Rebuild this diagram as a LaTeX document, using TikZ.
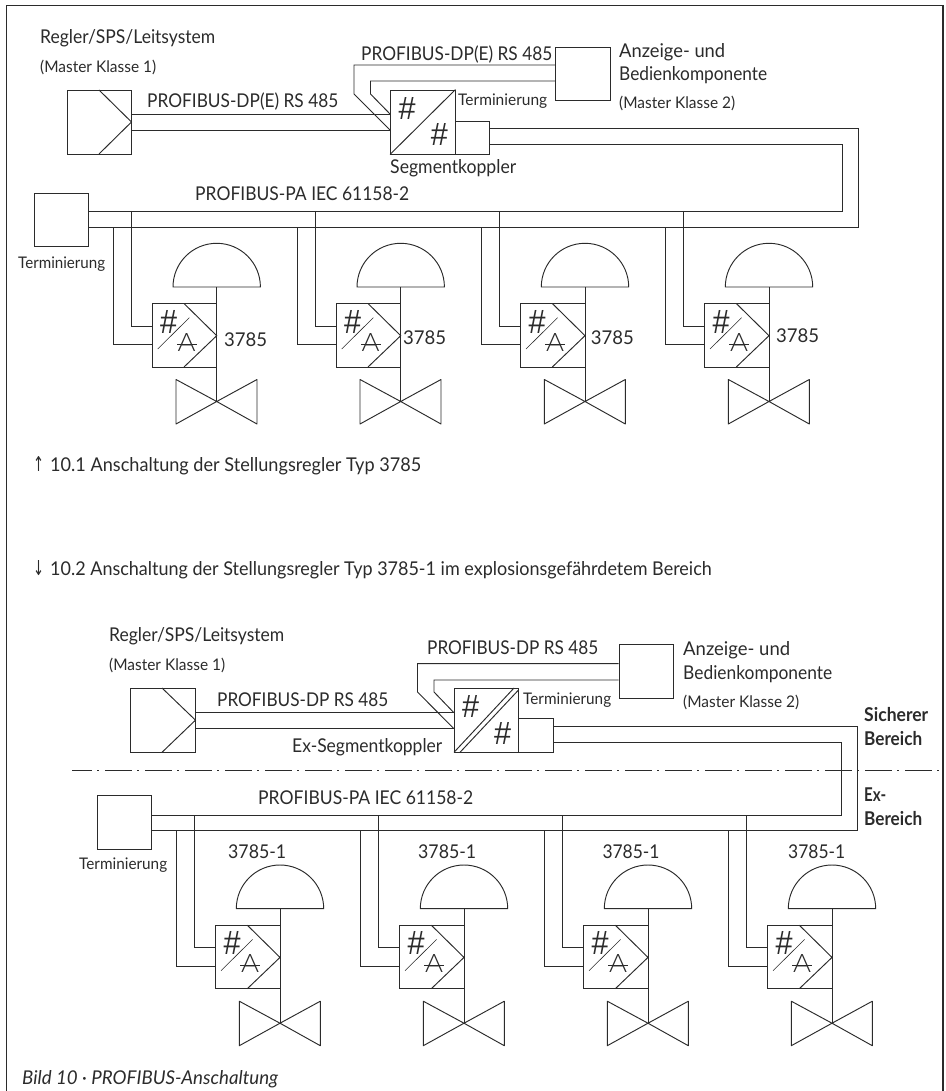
\documentclass[tikz,border=0pt]{standalone}
\usepackage{fontspec}
\usepackage{graphicx}
\setmainfont{Lato}
\newfontfamily\thinf{Lato Light}
\newfontfamily\hashf{Liberation Sans}
\newfontfamily\arrowf{DejaVu Sans}
\definecolor{ink}{HTML}{2B2B2B}
\newcommand\fa{\fontsize{19}{22}\selectfont}
\newcommand\fb{\fontsize{16}{19}\selectfont}
\newcommand\lab[5]{\node[txt] (#1) at (#2,#3) {\resizebox{#4pt}{\height}{#5}};}
\newcommand\hashmark[3]{\node[sym] (#1) at (#2,#3) {\resizebox{17pt}{22pt}{\hashf\#}};}
\newcommand\actuator[5]{%
 \begin{scope}[shift={(#2,#3)}]
  \node[bx,minimum width=64.7pt,minimum height=63.5pt] (#1box) at (184.35,335.25) {};
  \coordinate (#1dome) at (216.7,287);
  \coordinate (#1valve) at (216.7,401.5);
  \coordinate (#1ta) at (131,#4);
  \coordinate (#1tb) at (113.5,#5);
  \draw[ln] (173,287) arc[start angle=180,end angle=360,radius=43.7] -- cycle;
  \draw[ln] (#1dome) -- (#1valve);
  \draw[ln,line join=round] (176,379.5) -- (#1valve) -- (176,424) -- cycle;
  \draw[ln,line join=round] (257,379.5) -- (#1valve) -- (257,424) -- cycle;
  \draw[ln] (184,303.5) -- (216.7,335.7) -- (184,367);
  \draw[ln] (#1ta) |- (#1box.west |- 0,326);
  \draw[ln] (#1tb) |- (#1box.west |- 0,344.7);
  \node[sym] (#1hash) at (168.7,321.7) {\resizebox{17pt}{23pt}{\hashf\#}};
  \draw[thinln] (157.7,349) -- (189.3,317.7);
  \node[sym] (#1A) at (186.7,342) {\resizebox{18pt}{18pt}{\thinf A}};
  \draw[thinln] (177,344) -- (197,344);
 \end{scope}}
\tikzset{
 ln/.style={draw=ink,line width=0.95pt},
 thinln/.style={draw=ink,line width=0.6pt},
 bx/.style={draw=ink,line width=0.95pt,inner sep=0pt,rectangle},
 txt/.style={anchor=base west,inner sep=0pt,text=ink},
 sym/.style={anchor=center,inner sep=0pt,text=ink}
}
\begin{document}
\begin{tikzpicture}[x=1pt,y=-1pt]
\useasboundingbox (0,0) rectangle (945,1091);
% frame
\draw[draw=ink,line width=1.1pt] (6.5,1091) -- (6.5,5.3) -- (943,5.3) -- (943,1091);

% ---------- upper diagram
\node[bx,minimum width=64pt,minimum height=64pt] (m1) at (99,122) {};
\draw[ln] (99,90) -- (m1.east) -- (99,154);
\node[bx,minimum width=64.5pt,minimum height=64pt] (c1) at (422.75,122) {};
\draw[ln] (c1.south west) -- (c1.north east);
\node[bx,minimum width=34pt,minimum height=33pt] (t1) at (472,137.5) {};
\node[bx,minimum width=54.5pt,minimum height=53pt] (d1) at (582.75,73.5) {};
\node[bx,minimum width=54pt,minimum height=53pt] (e1) at (61,219.5) {};
\hashmark{c1h}{407}{108.3}
\hashmark{c1i}{439.3}{135}
\draw[ln] (m1.east |- 0,114) -- (c1.west |- 0,114);
\draw[ln] (m1.east |- 0,130) -- (c1.west |- 0,130);
\draw[ln] (c1.west |- 0,130) -- (354,94) -- (354,65) -- (d1.west |- 0,65);
\draw[ln] (c1.west |- 0,114) -- (370.5,94) -- (370.5,81) -- (d1.west |- 0,81);
\draw[ln] (t1.east |- 0,128) -- (858.7,128) -- (858.7,227.5) -- (e1.east |- 0,227.5);
\draw[ln] (t1.east |- 0,144.5) -- (842,144.5) -- (842,211) -- (e1.east |- 0,211);
\actuator{ua}{0}{0}{211}{227.5}
\actuator{ub}{184}{0}{211}{227.5}
\actuator{uc}{368.3}{0}{211}{227.5}
\actuator{ud}{552.3}{0}{211}{227.5}

\lab{l1}{40}{44}{175}{\fa Regler/SPS/Leitsystem}
\lab{l2}{40}{72.7}{116}{\fb (Master Klasse 1)}
\lab{l3}{147}{107.3}{191}{\fa PROFIBUS-DP(E) RS 485}
\lab{l4}{361}{60.7}{191}{\fa PROFIBUS-DP(E) RS 485}
\lab{l5}{458}{106}{89}{\fb Terminierung}
\lab{l6}{619}{57.3}{106}{\fa Anzeige- und}
\lab{l7}{619}{80.3}{148}{\fa Bedienkomponente}
\lab{l8}{619}{108.3}{116}{\fb (Master Klasse 2)}
\lab{l9}{390}{174}{126}{\fa Segmentkoppler}
\lab{l10}{195}{201}{214}{\fa PROFIBUS-PA IEC 61158-2}
\lab{l11}{18}{268.3}{87}{\fb Terminierung}
\lab{n1}{224}{346}{43}{\fa 3785}
\lab{n2}{403}{344.5}{43}{\fa 3785}
\lab{n3}{590.7}{344}{43}{\fa 3785}
\lab{n4}{776}{342.7}{43}{\fa 3785}

% captions
\node[txt] (arrowup) at (33,471) {\resizebox{11pt}{15pt}{\arrowf ↑}};
\lab{cap1}{50}{471}{371}{\fa 10.1 Anschaltung der Stellungsregler Typ 3785}
\node[txt] (arrowdn) at (33,575.7) {\resizebox{11pt}{15pt}{\arrowf ↓}};
\lab{cap2}{50}{575.7}{661.5}{\fa 10.2 Anschaltung der Stellungsregler Typ 3785-1 im explosionsgefährdetem Bereich}

% ---------- lower diagram
\node[bx,minimum width=65pt,minimum height=64.3pt] (m2) at (162.5,720.15) {};
\draw[ln] (162,688) -- (m2.east) -- (162,752.3);
\node[bx,minimum width=64.5pt,minimum height=64.3pt] (c2) at (486.25,720.15) {};
\draw[ln] (454,752.3) -- (514,688);
\draw[ln] (460,752.3) -- (518.5,690);
\node[bx,minimum width=34.5pt,minimum height=33.6pt] (t2) at (535.75,735.5) {};
\node[bx,minimum width=54.5pt,minimum height=54.4pt] (d2) at (646.25,671.5) {};
\node[bx,minimum width=54pt,minimum height=54pt] (e2) at (124.3,822.7) {};
\hashmark{c2h}{470.7}{706}
\hashmark{c2i}{502.7}{733}
\draw[ln] (m2.east |- 0,712.3) -- (c2.west |- 0,712.3);
\draw[ln] (m2.east |- 0,728.3) -- (c2.west |- 0,728.3);
\draw[ln] (c2.west |- 0,728.3) -- (417.5,692) -- (417.5,663.7) -- (d2.west |- 0,663.7);
\draw[ln] (c2.west |- 0,712.3) -- (434,692) -- (434,680) -- (d2.west |- 0,680);
\draw[ln] (t2.east |- 0,726.7) -- (857.7,726.7) -- (857.7,830.7) -- (e2.east |- 0,830.7);
\draw[ln] (t2.east |- 0,742.7) -- (841.7,742.7) -- (841.7,815) -- (e2.east |- 0,815);
\actuator{va}{63.3}{621.7}{193.3}{209}
\actuator{vb}{247.3}{621.7}{193.3}{209}
\actuator{vc}{431.3}{621.7}{193.3}{209}
\actuator{vd}{615.3}{621.7}{193.3}{209}
\coordinate (safeL) at (72,770);
\coordinate (safeR) at (939,770);
\draw[draw=ink,line width=0.95pt,dash pattern=on 27pt off 5pt on 2pt off 6pt,dash phase=7pt] (safeL) -- (safeR);

\lab{b1}{109}{641.7}{175}{\fa Regler/SPS/Leitsystem}
\lab{b2}{109}{670.7}{116}{\fb (Master Klasse 1)}
\lab{b3}{217}{706.7}{171}{\fa PROFIBUS-DP RS 485}
\lab{b4}{427}{654.3}{171}{\fa PROFIBUS-DP RS 485}
\lab{b5}{523}{704.3}{88}{\fb Terminierung}
\lab{b6}{683}{655}{107}{\fa Anzeige- und}
\lab{b7}{683}{679}{149}{\fa Bedienkomponente}
\lab{b8}{683}{707.3}{116}{\fb (Master Klasse 2)}
\lab{b9}{292}{752.3}{150}{\fa Ex-Segmentkoppler}
\lab{b10}{258}{804}{215}{\fa PROFIBUS-PA IEC 61158-2}
\lab{b11}{79}{869.3}{88}{\fb Terminierung}
\lab{s1}{864}{721.7}{64}{\fa\bfseries Sicherer}
\lab{s2}{864}{745.7}{58}{\fa\bfseries Bereich}
\lab{s3}{864}{801.7}{22}{\fa\bfseries Ex-}
\lab{s4}{864}{825}{58}{\fa\bfseries Bereich}
\lab{k1}{228}{858.3}{58}{\fa 3785-1}
\lab{k2}{418}{858.3}{58}{\fa 3785-1}
\lab{k3}{602.3}{858.3}{57}{\fa 3785-1}
\lab{k4}{788}{858.3}{57}{\fa 3785-1}
\lab{cap3}{22}{1084}{256}{\fa\itshape Bild 10 · PROFIBUS-Anschaltung}
\end{tikzpicture}
\end{document}
